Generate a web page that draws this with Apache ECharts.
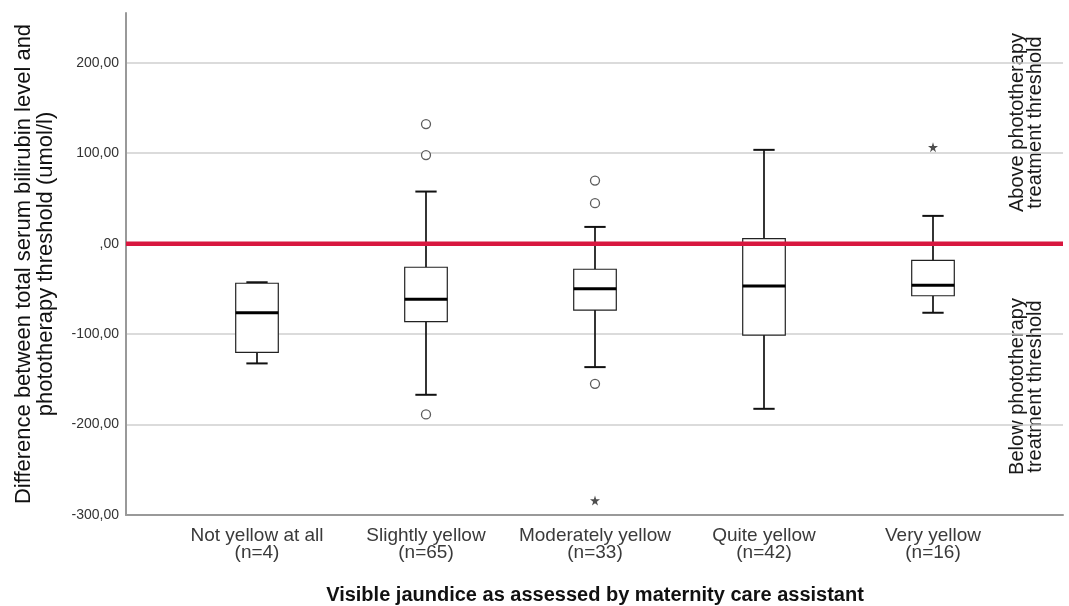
<!DOCTYPE html>
<html><head><meta charset="utf-8">
<script src="https://cdn.jsdelivr.net/npm/echarts@6/dist/echarts.min.js"></script>
<style>html,body{margin:0;padding:0;background:#fff}#c{width:1069px;height:606px}</style>
</head><body><div id="c"></div>
<script>
// ---- data ----
const categories = ['Not yellow at all\n(n=4)', 'Slightly yellow\n(n=65)', 'Moderately yellow\n(n=33)', 'Quite yellow\n(n=42)', 'Very yellow\n(n=16)'];
const whiskerLow  = [-132.4, -167.1, -136.5, -182.6, -76.4];
const q1          = [-120.2,  -86.3,  -73.4, -101.1, -57.6];
const median      = [ -76.4,  -61.5,  -49.8,  -46.8, -46.0];
const q3          = [ -43.8,  -26.1,  -28.3,    5.5, -18.4];
const whiskerHigh = [ -42.7,   57.6,   18.5,  103.7,  30.7];
const outlierCat  = [1, 1, 1, 2, 2, 2];
const outlierVal  = [132.2, 97.9, -188.8, 69.7, 44.7, -155.0];
const extremeCat  = [2, 4];
const extremeVal  = [-284.0, 106.7];
const yTicks      = [-300, -200, -100, 0, 100, 200];
const yTickLabels = ['-300,00', '-200,00', '-100,00', ',00', '100,00', '200,00'];
const thresholdValue = 0;
const yMin = -300, yMax = 255;

const FONT = '"Liberation Sans", Arial, sans-serif';
const boxData = categories.map((c, i) => [i, whiskerLow[i], q1[i], median[i], q3[i], whiskerHigh[i]]);
const outlierData = outlierCat.map((c, i) => [c, outlierVal[i]]);
const extremeData = extremeCat.map((c, i) => [c, extremeVal[i]]);

const chart = echarts.init(document.getElementById('c'), null, {renderer: 'canvas'});
const option = {
  backgroundColor: '#fff',
  animation: false,
  grid: [
    {left: 126, right: 6, top: 13, bottom: 91, outerBoundsMode: 'none', containLabel: false},
    {left: 172.5, right: 51.5, top: 13, bottom: 91, outerBoundsMode: 'none', containLabel: false}
  ],
  xAxis: [
    {type: 'value', gridIndex: 0, min: 0, max: 1, axisLabel: {show: false}, axisTick: {show: false},
     splitLine: {show: false}, axisLine: {show: true, onZero: false, lineStyle: {color: '#999', width: 2}}},
    {type: 'category', gridIndex: 1, data: categories, boundaryGap: true,
     axisLine: {show: false}, axisTick: {show: false}, splitLine: {show: false},
     axisLabel: {interval: 0, margin: 12, color: '#3a3a3a', fontFamily: FONT, fontSize: 19, lineHeight: 17},
     name: 'Visible jaundice as assessed by maternity care assistant', nameLocation: 'middle', nameGap: 70,
     nameTextStyle: {color: '#111', fontFamily: FONT, fontSize: 20, fontWeight: 'bold'}}
  ],
  yAxis: [
    {type: 'value', gridIndex: 0, min: yMin, max: yMax, interval: 100,
     axisLine: {show: true, lineStyle: {color: '#999', width: 2}}, axisTick: {show: false},
     axisLabel: {color: '#333', fontFamily: FONT, fontSize: 14, margin: 7, showMaxLabel: false,
       formatter: v => { const k = yTicks.indexOf(v); return k >= 0 ? yTickLabels[k] : ''; }},
     splitLine: {show: true, lineStyle: {color: ['rgba(0,0,0,0)', '#cfcfcf', '#cfcfcf', 'rgba(0,0,0,0)', '#cfcfcf', '#cfcfcf', 'rgba(0,0,0,0)'], width: 1.5}},
     name: 'Difference between total serum bilirubin level and\nphototherapy threshold (umol/l)',
     nameLocation: 'middle', nameGap: 69, nameRotate: 90,
     nameTextStyle: {color: '#111', fontFamily: FONT, fontSize: 22, lineHeight: 22}},
    {type: 'value', gridIndex: 1, min: yMin, max: yMax, show: false, splitLine: {show: false}}
  ],
  graphic: [
    {type: 'text', x: 1026, y: 122.5, rotation: Math.PI / 2, silent: true,
     style: {text: 'Above phototherapy\ntreatment threshold', fill: '#1a1a1a', fontFamily: FONT, fontSize: 20,
       lineHeight: 18, align: 'center', verticalAlign: 'middle'}},
    {type: 'text', x: 1026, y: 386.5, rotation: Math.PI / 2, silent: true,
     style: {text: 'Below phototherapy\ntreatment threshold', fill: '#1a1a1a', fontFamily: FONT, fontSize: 20,
       lineHeight: 18, align: 'center', verticalAlign: 'middle'}}
  ],
  series: [
    {type: 'custom', xAxisIndex: 1, yAxisIndex: 1, data: boxData, z: 3, silent: true,
     encode: {x: 0, y: [1, 2, 3, 4, 5]},
     renderItem: (params, api) => {
       const i = api.value(0);
       const pLo = api.coord([i, api.value(1)]);
       const pQ1 = api.coord([i, api.value(2)]);
       const pMd = api.coord([i, api.value(3)]);
       const pQ3 = api.coord([i, api.value(4)]);
       const pHi = api.coord([i, api.value(5)]);
       const band = api.size([1, 0])[0];
       const bw = band * 0.252, cw = bw * 0.5;
       const cx = pMd[0];
       const ws = {stroke: '#111', lineWidth: 1.7};
       return {type: 'group', children: [
         {type: 'line', shape: {x1: cx, y1: pHi[1], x2: cx, y2: pQ3[1]}, style: ws},
         {type: 'line', shape: {x1: cx, y1: pQ1[1], x2: cx, y2: pLo[1]}, style: ws},
         {type: 'line', shape: {x1: cx - cw / 2, y1: pHi[1], x2: cx + cw / 2, y2: pHi[1]}, style: {stroke: '#111', lineWidth: 2}},
         {type: 'line', shape: {x1: cx - cw / 2, y1: pLo[1], x2: cx + cw / 2, y2: pLo[1]}, style: {stroke: '#111', lineWidth: 2}},
         {type: 'rect', shape: {x: cx - bw / 2, y: pQ3[1], width: bw, height: pQ1[1] - pQ3[1]},
          style: {fill: '#fff', stroke: '#222', lineWidth: 1.2}},
         {type: 'line', shape: {x1: cx - bw / 2, y1: pMd[1], x2: cx + bw / 2, y2: pMd[1]}, style: {stroke: '#000', lineWidth: 3}}
       ]};
     }},
    {type: 'scatter', xAxisIndex: 1, yAxisIndex: 1, data: outlierData, symbol: 'circle', symbolSize: 9, z: 4, silent: true,
     itemStyle: {color: '#fff', borderColor: '#333', borderWidth: 1.3}},
    {type: 'scatter', xAxisIndex: 1, yAxisIndex: 1, data: extremeData, z: 4, silent: true,
     symbol: 'path://M50,0 L61,35 L98,35 L68,57 L79,91 L50,70 L21,91 L32,57 L2,35 L39,35 Z', symbolSize: 10,
     itemStyle: {color: '#222'}},
    {type: 'line', xAxisIndex: 0, yAxisIndex: 0, data: [[0, thresholdValue], [1, thresholdValue]], symbol: 'none', z: 6, silent: true,
     lineStyle: {color: '#d8173f', width: 4.5}}
  ]
};
chart.setOption(option);
</script></body></html>
